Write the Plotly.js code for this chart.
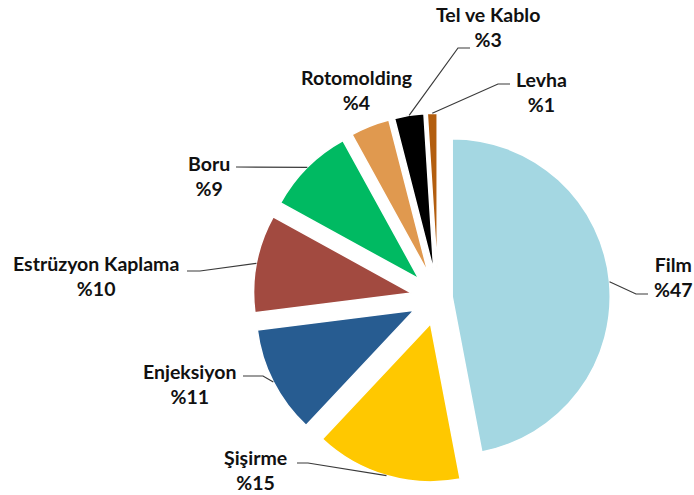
<!DOCTYPE html>
<html>
<head>
<meta charset="utf-8">
<script src="https://cdn.plot.ly/plotly-3.0.1.min.js"></script>
<style>
  html, body { margin: 0; padding: 0; background: #fff; }
  #chart { width: 694px; height: 495px; }
</style>
</head>
<body>
<div id="chart"></div>
<script>
// Pie data (share of consumption, %)
const labels = ['Film', 'Şişirme', 'Enjeksiyon', 'Estrüzyon Kaplama', 'Boru', 'Rotomolding', 'Tel ve Kablo', 'Levha'];
const values = [47, 15, 11, 10, 9, 4, 3, 1];
const colors = ['#A4D7E2', '#FFC800', '#275C91', '#A24A40', '#00BA62', '#E0994F', '#000000', '#B35E0F'];

// Exploded slices: Film a little, the rest further out
const pulls = [0.09, 0.17, 0.17, 0.17, 0.17, 0.17, 0.17, 0.17];

// Label placement (pixel centre of each text block) and leader line bend / end points
const labelPos = [[673, 277], [255, 470], [190, 384], [96, 276], [209, 176], [356, 90], [488, 27], [541, 92]];
const leaderPts = [
  [[636, 294], [648, 294]],
  [[308, 463], [297, 463]],
  [[263, 376], [243, 376]],
  [[200, 271], [187, 271]],
  [[236, 167]],
  null,
  [[458, 48], [470, 48]],
  [[498, 84], [510, 84]]
];

const W = 694, H = 495;
const px = (x) => x / W;
const py = (y) => 1 - y / H;

let pieTrace = {
  type: 'pie',
  labels: labels,
  values: values,
  sort: false,
  direction: 'clockwise',
  rotation: 0,
  pull: pulls,
  textinfo: 'none',
  hoverinfo: 'label+percent',
  marker: { colors: colors, line: { color: '#ffffff', width: 1.5 } },
  domain: { x: [0.3648, 0.8976], y: [0.0244, 0.7715] },
  showlegend: false
};

// Text labels as annotations
let annotations = labels.map((lab, i) => ({
  xref: 'paper', yref: 'paper',
  x: px(labelPos[i][0]), y: py(labelPos[i][1]),
  xanchor: 'center', yanchor: 'middle', align: 'center',
  showarrow: false,
  text: lab + '<br>%' + values[i],
  font: { family: 'Lato, Carlito, sans-serif', size: 19.5, color: '#111111', weight: 'bold' }
}));

let layout = {
  width: W,
  height: H,
  margin: { l: 0, r: 0, t: 0, b: 0 },
  paper_bgcolor: '#ffffff',
  annotations: annotations
};

Plotly.newPlot('chart', [pieTrace], layout, { displayModeBar: false, staticPlot: true }).then(gd => {
  // Leader lines start on the outer edge of each slice at its mid angle
  const cd0 = gd.calcdata[0][0];
  const total = values.reduce((a, b) => a + b, 0);
  let cum = 0;
  let shapes = [];
  values.forEach((v, i) => {
    const mid = (cum + v / 2) / total * 2 * Math.PI;
    cum += v;
    if (!leaderPts[i]) return;
    const dist = cd0.r * (1 + pulls[i]);
    const ax = cd0.cx + dist * Math.sin(mid);
    const ay = cd0.cy - dist * Math.cos(mid);
    let path = `M ${px(ax)} ${py(ay)}`;
    leaderPts[i].forEach(p => { path += ` L ${px(p[0])} ${py(p[1])}`; });
    shapes.push({
      type: 'path', xref: 'paper', yref: 'paper',
      path: path,
      line: { color: '#3a3a3a', width: 1.2 }
    });
  });
  return Plotly.relayout(gd, { shapes: shapes });
});
</script>
</body>
</html>
